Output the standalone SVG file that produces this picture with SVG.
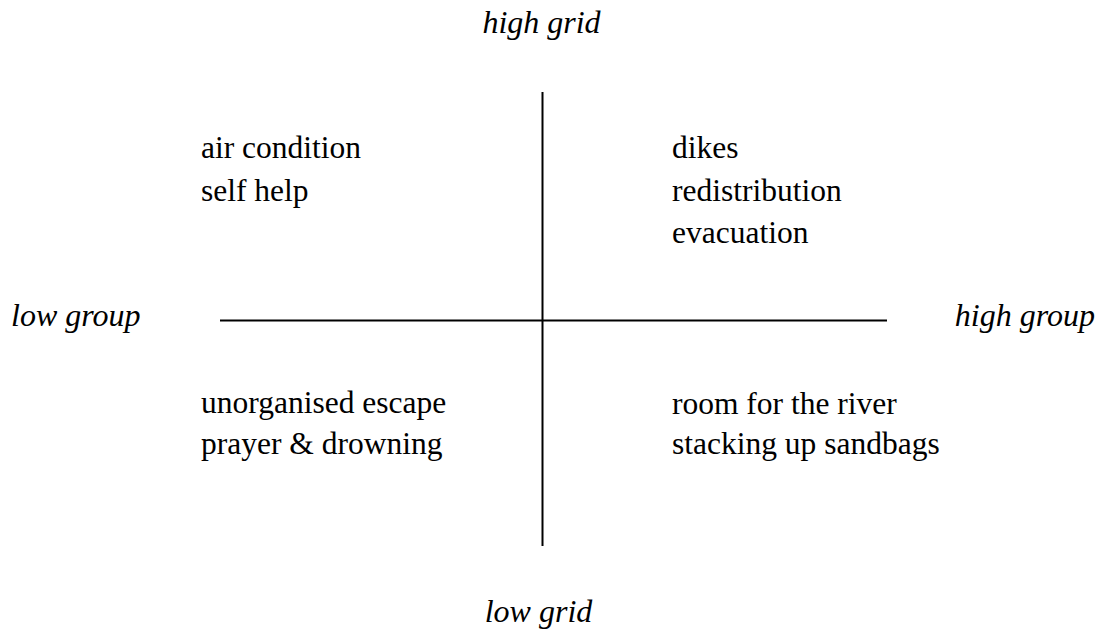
<svg xmlns="http://www.w3.org/2000/svg" width="1104" height="632" viewBox="0 0 1104 632">
<style>
.t{font-family:"Liberation Serif","Times New Roman",serif;font-size:31.5px;fill:#000}
.ax{font-family:"Liberation Serif","Times New Roman",serif;font-size:32px;font-style:italic;fill:#000}
.ln{stroke:#000;stroke-width:2;fill:none}
</style>
<rect width="1104" height="632" fill="#fff"/>
<g id="connectors">
<line class="ln" x1="220" y1="320.5" x2="887" y2="320.5"/>
<line class="ln" x1="542.5" y1="92" x2="542.5" y2="546"/>
</g>
<g id="high-grid"><text class="ax" x="541.5" y="33" text-anchor="middle">high grid</text></g>
<g id="low-grid"><text class="ax" x="538.5" y="622" text-anchor="middle">low grid</text></g>
<g id="low-group"><text class="ax" x="11" y="326">low group</text></g>
<g id="high-group"><text class="ax" x="1095" y="326" text-anchor="end">high group</text></g>
<g id="q-top-left"><text class="t" x="201" y="158">air condition</text><text class="t" x="201" y="201">self help</text></g>
<g id="q-top-right"><text class="t" x="672" y="158">dikes</text><text class="t" x="672" y="201">redistribution</text><text class="t" x="672" y="243">evacuation</text></g>
<g id="q-bottom-left"><text class="t" x="201" y="413">unorganised escape</text><text class="t" x="201" y="454">prayer  &amp; drowning</text></g>
<g id="q-bottom-right"><text class="t" x="672" y="414">room for the river</text><text class="t" x="672" y="454">stacking up sandbags</text></g>
</svg>
